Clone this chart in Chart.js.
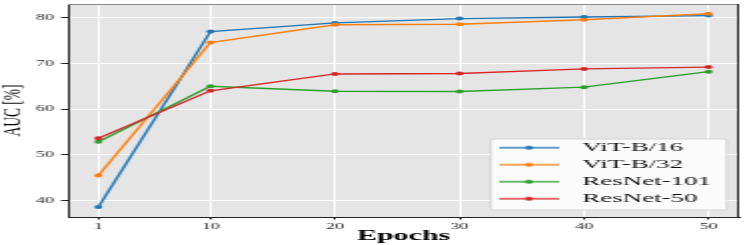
<!DOCTYPE html>
<html><head><meta charset="utf-8">
<script src="https://cdn.jsdelivr.net/npm/chart.js@4/dist/chart.umd.min.js"></script>
<style>
html,body{margin:0;padding:0;background:#fff;overflow:hidden;}
#wrap{width:374px;height:245px;transform:scaleX(1.99733);transform-origin:0 0;}
canvas{display:block;}
</style></head><body>
<div id="wrap"><canvas id="c" width="374" height="245"></canvas></div>
<script>
// ---- data ----
const epochs = [1, 10, 20, 30, 40, 50];
const vitB16 = [38.5, 77.0, 78.9, 79.85, 80.2, 80.5];
const vitB32 = [45.4, 74.6, 78.5, 78.6, 79.6, 80.9];
const resnet101 = [52.8, 65.0, 63.9, 63.85, 64.8, 68.2];
const resnet50 = [53.6, 64.0, 67.7, 67.8, 68.8, 69.2];
const seriesNames = ['ViT-B/16', 'ViT-B/32', 'ResNet-101', 'ResNet-50'];
const xTicks = [1, 10, 20, 30, 40, 50];
const yTicks = [40, 50, 60, 70, 80];
const xTitle = 'Epochs';
const yTitle = 'AUC [%]';

// ---- styles ----
const colors = ['#1f77b4', '#ff7f0e', '#2ca02c', '#d62728'];
const seriesValues = [vitB16, vitB32, resnet101, resnet50];

function legendSymbol(color) {
  const c = document.createElement('canvas');
  c.width = 30; c.height = 6;
  const g = c.getContext('2d');
  g.strokeStyle = color; g.lineWidth = 1.4;
  g.beginPath(); g.moveTo(0, 3); g.lineTo(30, 3); g.stroke();
  g.fillStyle = color;
  g.beginPath(); g.arc(15, 3, 2, 0, Math.PI * 2); g.fill();
  return c;
}
const symbols = colors.map(legendSymbol);

const datasets = seriesNames.map((name, i) => ({
  label: name,
  data: epochs.map((e, j) => ({ x: e, y: seriesValues[i][j] })),
  borderColor: colors[i],
  backgroundColor: colors[i],
  pointBackgroundColor: colors[i],
  pointBorderWidth: 0,
  pointRadius: 2,
  borderWidth: 1.4,
  tension: 0,
  order: seriesNames.length - i
}));

const LEG_LEFT = 241.3, LEG_TOP = 137.5;
const FRAME = { l: 245.7, t: 139, r: 363.8, b: 210 };

const helperPlugin = {
  id: 'helper',
  beforeDraw(chart) {
    const { ctx, chartArea: a } = chart;
    ctx.save();
    ctx.fillStyle = '#e5e5e5';
    ctx.fillRect(a.left, a.top, a.right - a.left, a.bottom - a.top);
    ctx.restore();
  },
  afterLayout(chart) {
    const lg = chart.legend;
    if (!lg) return;
    lg.left = LEG_LEFT; lg.top = LEG_TOP;
    lg.right = LEG_LEFT + 140; lg.bottom = LEG_TOP + 100;
    if (!lg._wrapped) {
      const orig = lg.draw;
      lg.draw = function (ca) {
        const ctx = this.ctx;
        ctx.save();
        ctx.fillStyle = 'rgba(252,252,252,0.95)';
        ctx.strokeStyle = '#d4d4d4';
        ctx.lineWidth = 1;
        ctx.beginPath();
        ctx.roundRect(FRAME.l, FRAME.t, FRAME.r - FRAME.l, FRAME.b - FRAME.t, 1.5);
        ctx.fill(); ctx.stroke();
        ctx.restore();
        orig.call(this, ca);
      };
      lg._wrapped = true;
    }
  },
  afterDraw(chart) {
    const { ctx, chartArea: a } = chart;
    ctx.save();
    ctx.lineWidth = 1;
    ctx.strokeStyle = '#888';
    ctx.beginPath(); ctx.moveTo(a.left, a.top + 0.5); ctx.lineTo(a.right, a.top + 0.5); ctx.stroke();
    ctx.strokeStyle = '#222';
    ctx.beginPath(); ctx.moveTo(Math.round(a.right) - 0.5, a.top); ctx.lineTo(Math.round(a.right) - 0.5, a.bottom); ctx.stroke();
    ctx.restore();
  }
};

function noPad(scale) {
  scale.paddingTop = 0; scale.paddingBottom = 0;
  scale.paddingLeft = 0; scale.paddingRight = 0;
}

new Chart(document.getElementById('c'), {
  type: 'line',
  data: { datasets },
  options: {
    responsive: false,
    animation: false,
    devicePixelRatio: 1,
    layout: { padding: { left: 0, top: 2, right: 2.5, bottom: 0 } },
    plugins: {
      tooltip: { enabled: false },
      legend: {
        position: 'chartArea',
        align: 'start',
        labels: {
          usePointStyle: true,
          pointStyleWidth: 40,
          padding: 3.5,
          color: '#111',
          font: { family: '"Liberation Serif", "Times New Roman", serif', size: 13.5 },
          sort: (a, b) => a.datasetIndex - b.datasetIndex,
          generateLabels(chart) {
            const items = Chart.defaults.plugins.legend.labels.generateLabels(chart);
            items.forEach(it => { it.pointStyle = symbols[it.datasetIndex]; });
            return items;
          }
        }
      }
    },
    scales: {
      x: {
        type: 'linear',
        min: -1.45,
        max: 52.45,
        afterBuildTicks(scale) { scale.ticks = xTicks.map(v => ({ value: v })); },
        afterFit(scale) { scale.height = 28; noPad(scale); },
        grid: { color: '#ffffff', lineWidth: 1, tickColor: '#222', tickLength: 2.5, drawTicks: true },
        border: { display: true, color: '#222', width: 1 },
        ticks: {
          padding: 1.5,
          color: '#222',
          maxRotation: 0,
          autoSkip: false,
          font: { family: '"Liberation Serif", "Times New Roman", serif', size: 9 },
          callback: v => String(v)
        },
        title: {
          display: true,
          text: xTitle,
          color: '#000',
          padding: { top: 0, bottom: 1.5 },
          font: { family: '"Liberation Serif", "Times New Roman", serif', size: 15, weight: 'bold', lineHeight: 1 }
        }
      },
      y: {
        type: 'linear',
        min: 36.3,
        max: 83.05,
        afterBuildTicks(scale) { scale.ticks = yTicks.map(v => ({ value: v })); },
        afterFit(scale) { scale.width = 34; noPad(scale); },
        grid: { color: '#ffffff', lineWidth: 1, tickColor: '#222', tickLength: 3.5, drawTicks: true },
        border: { display: true, color: '#222', width: 1 },
        ticks: {
          padding: 3.5,
          color: '#222',
          font: { family: '"Liberation Serif", "Times New Roman", serif', size: 9 },
          callback: v => String(v)
        },
        title: {
          display: true,
          text: yTitle,
          color: '#000',
          padding: { top: 0, bottom: 0 },
          font: { family: '"Liberation Serif", "Times New Roman", serif', size: 13.5, lineHeight: 1 }
        }
      }
    }
  },
  plugins: [helperPlugin]
});
</script>
</body></html>
